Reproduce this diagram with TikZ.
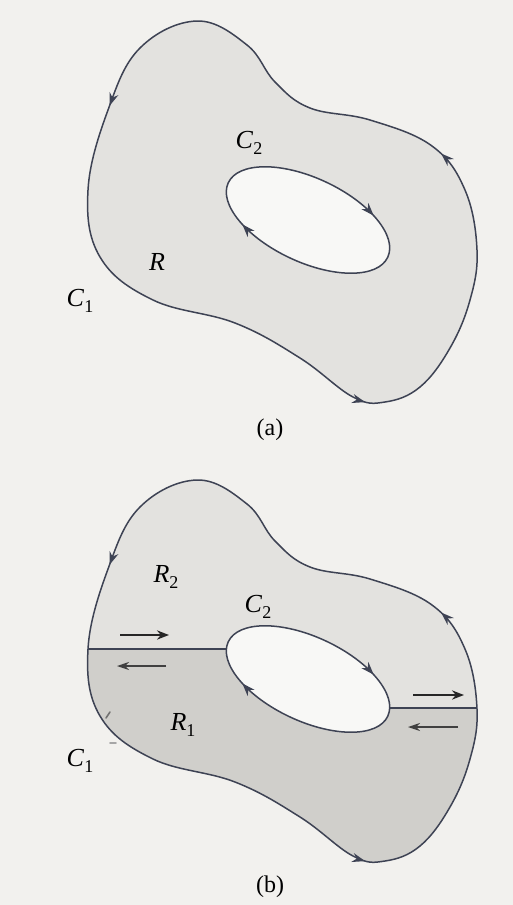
\documentclass[tikz,border=0pt]{standalone}
\usepackage{fontspec}
\setmainfont{Liberation Serif}
\usetikzlibrary{arrows.meta,decorations.markings}
\definecolor{bgc}{HTML}{F2F1EE}
\definecolor{regc}{HTML}{E3E2DF}
\definecolor{darkc}{HTML}{D0CFCB}
\definecolor{holec}{HTML}{F8F8F6}
\definecolor{linec}{HTML}{3E4354}
\newcommand\outerpath{plot[smooth cycle, tension=0.65] coordinates {(197,21) (140,48) (108,110) (88,190) (100,257) (153,300) (235,323) (300,358) (353,397) (385,402) (420,387) (450,348) (470,300) (477,250) (465,190) (432,146) (370,120) (310,108) (275,82) (247,45)}}
\newcommand\innerpath{(308,220) ellipse [x radius=88, y radius=42, rotate=-25]}
\newcommand\lab[2]{\textit{#1}\raisebox{-0.45ex}{\fontsize{9}{10}\selectfont #2}}
\tikzset{
  mytip/.tip={Stealth[length=6.5pt,width=4.6pt]},
  curve/.style={draw=linec, line width=0.75pt},
  outerarrows/.style={postaction={decorate}, decoration={markings,
      mark=at position 0.055 with {\arrow[linec]{mytip}},
      mark=at position 0.442 with {\arrow[linec]{mytip}},
      mark=at position 0.706 with {\arrow[linec]{mytip}}}},
  innerarrows/.style={postaction={decorate}, decoration={markings,
      mark=at position 0.39 with {\arrow[linec]{mytip}},
      mark=at position 0.89 with {\arrow[linec]{mytip}}}},
  label/.style={font=\fontsize{13}{15}\selectfont, inner sep=0pt},
  caption/.style={font=\fontsize{12}{14}\selectfont, inner sep=0pt},
  fwd/.style={-{Stealth[length=6pt,width=4.6pt]}, line width=1.3pt, draw=black!85},
  bwd/.style={-{Stealth[length=6pt,width=4pt]}, line width=0.7pt, draw=black!75},
  cut/.style={draw=linec, line width=0.6pt},
  speck/.style={draw=black!55, line width=0.8pt, line cap=round}
}
\begin{document}
\begin{tikzpicture}[x=0.5pt, y=-0.5pt]
\fill[bgc] (0,0) rectangle (513,905);
\useasboundingbox (0,0) rectangle (513,905);
% ---------- (a) ----------
\fill[regc] \outerpath;
\fill[holec] \innerpath;
\draw[curve, outerarrows] \outerpath;
\draw[curve, innerarrows] \innerpath;
\node[label] (c2a) at (249,143) {\lab{C}{2}};
\node[label] (ra) at (157,262) {\textit{R}};
\node[label] (c1a) at (80,301) {\lab{C}{1}};
\node[caption] (capa) at (270,430) {(a)};
% ---------- (b) ----------
\begin{scope}[shift={(0,459)}]
\fill[regc] \outerpath;
\begin{scope}
  \clip \outerpath;
  \fill[darkc] (0,190) -- (300,190) -- (300,249) -- (513,249) -- (513,460) -- (0,460) -- cycle;
  \draw[cut] (0,190) -- (300,190);
  \draw[cut] (300,249) -- (513,249);
\end{scope}
\fill[holec] \innerpath;
\draw[curve, outerarrows] \outerpath;
\draw[curve, innerarrows] \innerpath;
\coordinate (a1s) at (120,176); \coordinate (a1e) at (169,176);
\coordinate (a2s) at (166,207); \coordinate (a2e) at (117,207);
\coordinate (a3s) at (413,236); \coordinate (a3e) at (464,236);
\coordinate (a4s) at (458,268); \coordinate (a4e) at (408,268);
\draw[fwd] (a1s) -- (a1e);
\draw[bwd] (a2s) -- (a2e);
\draw[fwd] (a3s) -- (a3e);
\draw[bwd] (a4s) -- (a4e);
\coordinate (t1s) at (106,259); \coordinate (t1e) at (110,253);
\coordinate (t2s) at (110,284); \coordinate (t2e) at (116,284);
\draw[speck] (t1s) -- (t1e);
\draw[speck, draw=black!35] (t2s) -- (t2e);
\node[label] (r2b) at (166,118) {\lab{R}{2}};
\node[label] (c2b) at (258,148) {\lab{C}{2}};
\node[label] (r1b) at (183,266) {\lab{R}{1}};
\node[label] (c1b) at (80,302) {\lab{C}{1}};
\node[caption] (capb) at (270,428) {(b)};
\end{scope}
\end{tikzpicture}
\end{document}
